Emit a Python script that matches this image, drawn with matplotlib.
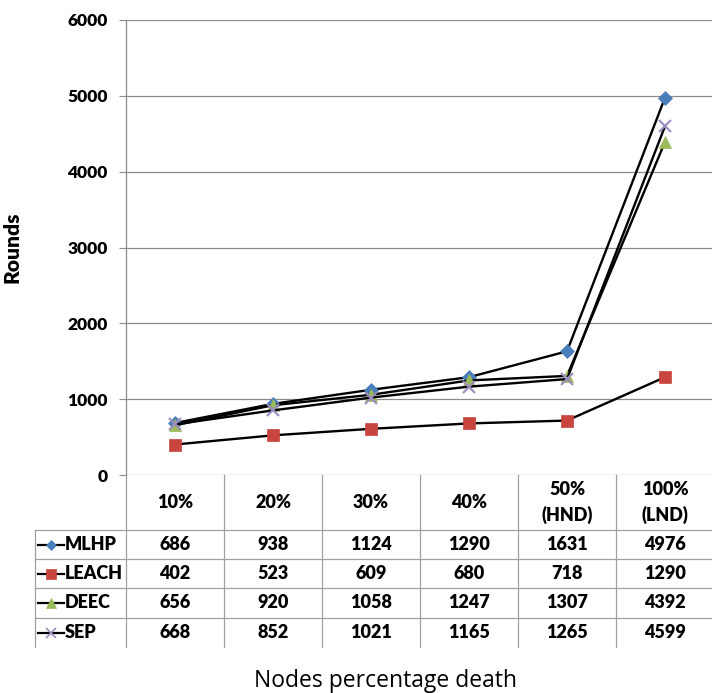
import matplotlib
matplotlib.use("Agg")
import matplotlib.pyplot as plt

# Data
categories = ["10%", "20%", "30%", "40%", "50%\n(HND)", "100%\n(LND)"]
series_names = ["MLHP", "LEACH", "DEEC", "SEP"]
mlhp = [686, 938, 1124, 1290, 1631, 4976]
leach = [402, 523, 609, 680, 718, 1290]
deec = [656, 920, 1058, 1247, 1307, 4392]
sep = [668, 852, 1021, 1165, 1265, 4599]
yticks = [0, 1000, 2000, 3000, 4000, 5000, 6000]

series_values = [mlhp, leach, deec, sep]
styles = [
    dict(marker="D", color="#4A7EBB", ms=7),
    dict(marker="s", color="#C8453F", ms=9),
    dict(marker="^", color="#9BBB59", ms=9),
    dict(marker="x", color="#9C8CC0", ms=9),
]

W, H = 712, 693
fig = plt.figure(figsize=(W / 100, H / 100), dpi=100)
ax_left, ax_right, ax_top, ax_bottom = 126, 714, 20, 475
ax = fig.add_axes([ax_left / W, (H - ax_bottom) / H,
                   (ax_right - ax_left) / W, (ax_bottom - ax_top) / H])

GRID = "#8C8C8C"
TABLE = "#A0A0A0"
BOLD = dict(family="Lato", weight="heavy")

x = list(range(len(categories)))
for vals, st in zip(series_values, styles):
    ax.plot(x, vals, color="black", lw=1.7, marker=st["marker"],
            ms=st["ms"], mfc=st["color"], mec=st["color"],
            mew=1.5 if st["marker"] == "x" else 0.5, zorder=3)

ax.set_xlim(-0.5, len(categories) - 0.5)
ax.set_ylim(0, 6000)
ax.set_yticks(yticks)
ax.set_yticklabels([str(t) for t in yticks], fontsize=12.5, **BOLD)
ax.set_xticks([])
ax.tick_params(axis="y", length=5, width=0.8, color=GRID, pad=8)
for s in ["top", "right", "bottom"]:
    ax.spines[s].set_visible(False)
ax.spines["left"].set_color(GRID)
ax.spines["left"].set_linewidth(0.9)
ax.yaxis.grid(True, color=GRID, lw=0.9)
ax.set_axisbelow(True)

ax.set_ylabel("Rounds", fontsize=15, labelpad=0, **BOLD)
ax.yaxis.set_label_coords((22 - ax_left) / (ax_right - ax_left), 0.5)

# Data table below the plot area
tr = ax.get_xaxis_transform()
px_per_cat = (ax_right - ax_left) / len(categories)


def ya(p):
    return (ax_bottom - p) / (ax_bottom - ax_top)


def xd(p):
    return -0.5 + (p - ax_left) / px_per_cat


row_edges = [530, 559, 588, 618, 647]
table_left = 35

# vertical lines
for k in range(len(categories) + 1):
    ax.plot([k - 0.5, k - 0.5], [ya(ax_bottom), ya(row_edges[-1])],
            color=TABLE, lw=0.9, transform=tr, clip_on=False)
ax.plot([xd(table_left)] * 2, [ya(row_edges[0]), ya(row_edges[-1])],
        color=TABLE, lw=0.9, transform=tr, clip_on=False)
# horizontal lines
for r in row_edges[:-1]:
    ax.plot([xd(table_left), len(categories) - 0.5], [ya(r)] * 2,
            color=TABLE, lw=0.9, transform=tr, clip_on=False)

# header row
for i, c in enumerate(categories):
    ax.text(i, ya((ax_bottom + row_edges[0]) / 2), c, transform=tr,
            ha="center", va="center", fontsize=13, linespacing=1.55, **BOLD)

# value rows
for r, (name, vals, st) in enumerate(zip(series_names, series_values, styles)):
    yc = ya((row_edges[r] + row_edges[r + 1]) / 2)
    for i, v in enumerate(vals):
        ax.text(i, yc, str(v), transform=tr, ha="center", va="center",
                fontsize=13, **BOLD)
    ax.plot([xd(38), xd(64)], [yc, yc], color="black", lw=1.6,
            transform=tr, clip_on=False)
    ax.plot([xd(51)], [yc], marker=st["marker"], ms=st["ms"] * 0.8,
            mfc=st["color"], mec=st["color"],
            mew=1.2 if st["marker"] == "x" else 0.5,
            transform=tr, clip_on=False)
    ax.text(xd(65), yc, name, transform=tr, ha="left", va="center",
            fontsize=13, **BOLD)

fig.text(385 / W, 1 - 681 / H, "Nodes percentage death", ha="center",
         va="center", fontsize=16.5, family="Open Sans")

fig.savefig("out.png", dpi=100)
